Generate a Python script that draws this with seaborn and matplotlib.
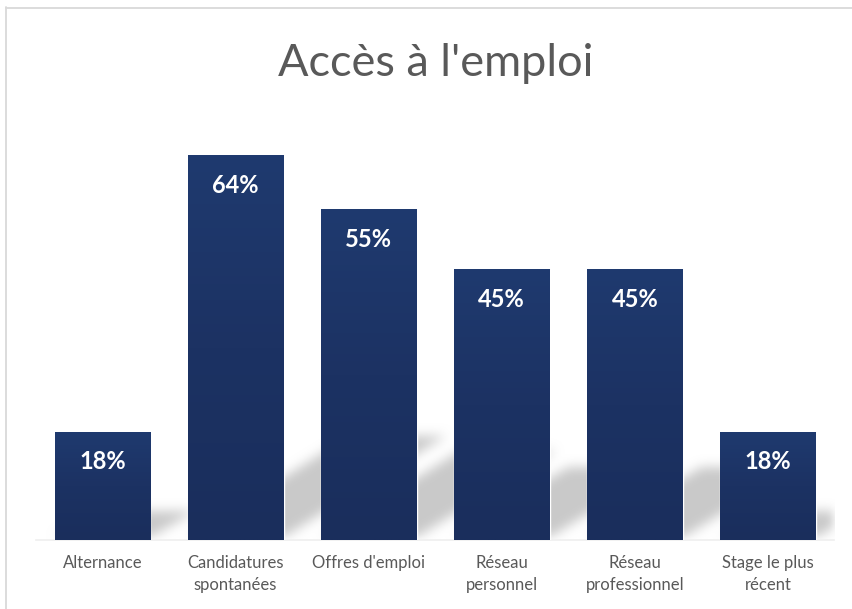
import numpy as np
import matplotlib
matplotlib.use("Agg")
import matplotlib.pyplot as plt
import seaborn as sns
from matplotlib.path import Path
from matplotlib.lines import Line2D
from matplotlib.colors import LinearSegmentedColormap

categories = ["Alternance", "Candidatures\nspontanées", "Offres d'emploi",
              "Réseau\npersonnel", "Réseau\nprofessionnel", "Stage le plus\nrécent"]
values = [18, 64, 55, 45, 45, 18]
value_labels = ["18%", "64%", "55%", "45%", "45%", "18%"]
title = "Accès à l'emploi"

W_PX, H_PX = 853, 609
sns.set_theme(style="white")
plt.rcParams['font.family'] = ['Lato', 'DejaVu Sans']

fig = plt.figure(figsize=(W_PX / 100, H_PX / 100), dpi=100)
fig.patch.set_facecolor("white")
ax = fig.add_axes([36 / W_PX, 69 / H_PX, (834.5 - 36) / W_PX, 421 / H_PX])

sns.barplot(x=categories, y=values, color="#1D3466", width=0.72, ax=ax,
            saturation=1, zorder=3)
ax.set_xlim(-0.5, len(categories) - 0.5)
ax.set_ylim(0, 70)
ax.set_xlabel("")
ax.set_ylabel("")
ax.set_yticks([])
for s in ["left", "right", "top"]:
    ax.spines[s].set_visible(False)
ax.spines["bottom"].set_color("#EFEFEF")
ax.spines["bottom"].set_linewidth(1.2)
ax.tick_params(axis="x", length=0, pad=11, labelsize=12, labelcolor="#595959")
for t in ax.get_xticklabels():
    t.set_linespacing(1.45)
ax.set_facecolor("none")

# bar gradient
cmap = LinearSegmentedColormap.from_list("bar", ["#1A2E5C", "#1C3263", "#1F3A6F"])
grad = np.linspace(0, 1, 256).reshape(-1, 1)
bars = list(ax.patches)
for p in bars:
    x0, y0 = p.get_x(), p.get_y()
    w, h = p.get_width(), p.get_height()
    im = ax.imshow(grad, extent=(x0, x0 + w, y0, y0 + h), origin="lower",
                   cmap=cmap, aspect="auto", zorder=3.5, interpolation="bilinear")
    im.set_clip_path(p)

# shadows (blurred perspective shadows behind bars)
fig.canvas.draw()
bb = ax.get_window_extent()
Wd, Hd = int(round(bb.width)), int(round(bb.height))
xs = bb.x0 + np.arange(Wd) + 0.5
ys = bb.y0 + np.arange(Hd) + 0.5
gx, gy = np.meshgrid(xs, ys)
pts = np.column_stack([gx.ravel(), gy.ravel()])
mask = np.zeros(Wd * Hd)
for p in bars:
    (l, b0) = ax.transData.transform((p.get_x(), 0))
    (r, t) = ax.transData.transform((p.get_x() + p.get_width(), p.get_height()))
    hp = t - b0
    dx, dy = 0.42 * hp, 0.27 * hp
    poly = Path([(l, b0 + 3), (r, b0 + 3), (r + dx, b0 + dy), (l + dx, b0 + dy), (l, b0 + 3)])
    mask = np.maximum(mask, poly.contains_points(pts).astype(float))
mask = mask.reshape(Hd, Wd)

def box_blur(a, r, axis):
    pad = [(0, 0), (0, 0)]
    pad[axis] = (r + 1, r)
    ap = np.pad(a, pad, mode="constant")
    c = np.cumsum(ap, axis=axis)
    if axis == 0:
        return (c[2 * r + 1:, :] - c[:-2 * r - 1, :]) / (2 * r + 1)
    return (c[:, 2 * r + 1:] - c[:, :-2 * r - 1]) / (2 * r + 1)

for _ in range(3):
    mask = box_blur(mask, 5, 0)
    mask = box_blur(mask, 5, 1)

rgba = np.zeros((Hd, Wd, 4))
rgba[..., :3] = 0.79
rgba[..., 3] = np.clip(mask, 0, 1)
ax.imshow(rgba, extent=(*ax.get_xlim(), *ax.get_ylim()), origin="lower",
          aspect="auto", zorder=1, interpolation="bilinear")
ax.set_xlim(-0.5, len(categories) - 0.5)
ax.set_ylim(0, 70)

# value labels
for p, lab in zip(bars, value_labels):
    cx = p.get_x() + p.get_width() / 2
    top = p.get_height()
    ax.annotate(lab, (cx, top), xytext=(0, -30 * 0.72), textcoords="offset points",
                ha="center", va="center", color="white", fontsize=17,
                fontweight="bold", zorder=5)

fig.text(436 / W_PX, 1 - 76 / H_PX, title, ha="center", va="baseline",
         fontsize=32.5, color="#595959")

fig.add_artist(Line2D([6.5 / W_PX, 6.5 / W_PX], [0, 1 - 6.5 / H_PX],
                      color="#D9D9D9", lw=1.3, transform=fig.transFigure))
fig.add_artist(Line2D([6 / W_PX, 1], [1 - 7.5 / H_PX, 1 - 7.5 / H_PX],
                      color="#D9D9D9", lw=1.3, transform=fig.transFigure))

fig.savefig("out.png", dpi=100, facecolor="white")
